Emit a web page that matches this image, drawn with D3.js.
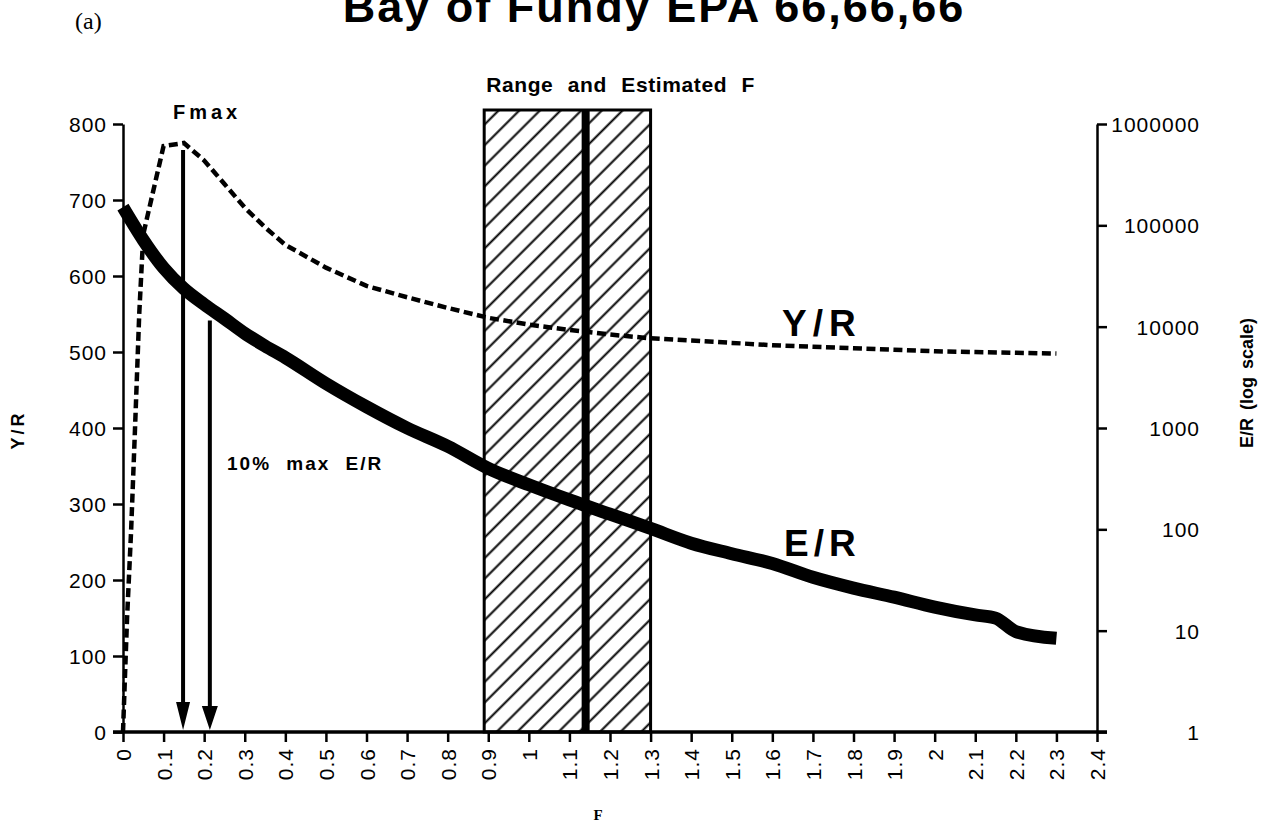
<!DOCTYPE html>
<html>
<head>
<meta charset="utf-8">
<script src="https://cdn.jsdelivr.net/npm/d3@7"></script>
<style>
  body { margin: 0; background: #fff; }
  text { font-family: "Liberation Sans", Arial, Helvetica, sans-serif; fill: #000; }
</style>
</head>
<body>
<svg id="chart" width="1265" height="828"></svg>
<script>
// Fishing mortality ticks and axis ticks
const fTicks = d3.range(0, 25).map(i => +(i / 10).toFixed(1));
const yrTicks = [0, 100, 200, 300, 400, 500, 600, 700, 800];
const erTicks = [1, 10, 100, 1000, 10000, 100000, 1000000];

// Yield per recruit (left axis)
const yrF = [0, 0.01, 0.02, 0.03, 0.04, 0.05, 0.1, 0.15, 0.2, 0.25, 0.3, 0.35, 0.4, 0.5, 0.6, 0.7,
             0.8, 0.9, 1.0, 1.1, 1.2, 1.3, 1.4, 1.5, 1.6, 1.7, 1.8, 1.9, 2.0, 2.1, 2.2, 2.3];
const yrValues = [0, 150, 265, 405, 550, 655, 771, 775, 752, 721, 690, 664, 641, 611, 587, 572,
                  558, 545, 536, 529, 523, 518, 515, 512, 509, 507, 505, 503, 501, 500, 499, 498];

// Eggs per recruit (right axis, log scale)
const erF = [0, 0.05, 0.1, 0.15, 0.2, 0.25, 0.3, 0.35, 0.4, 0.5, 0.6, 0.7, 0.8, 0.9, 1.0, 1.1,
             1.2, 1.3, 1.4, 1.5, 1.6, 1.7, 1.8, 1.9, 2.0, 2.1, 2.15, 2.2, 2.3];
const erValues = [151000, 71600, 38000, 23700, 16600, 12000, 8600, 6450, 4950, 2750, 1620, 1000,
                  660, 400, 275, 195, 141, 102, 73, 57.5, 46, 33.6, 26.3, 21.4, 17.1, 14.3, 13.3, 9.8, 8.4];

// Reference points
const fmax = 0.148;
const f10 = 0.214;          // F at 10% of maximum E/R
const f10ER = 15100;
const rangeF = [0.89, 1.30];
const estF = 1.14;

const svg = d3.select("#chart");

const x = d3.scaleLinear().domain([0, 2.4]).range([123, 1097]);
const yL = d3.scaleLinear().domain([0, 800]).range([732, 124]);
const yR = d3.scaleLog().domain([1, 1000000]).range([732, 124]);

// Hatch pattern for the F range box
const defs = svg.append("defs");
const pat = defs.append("pattern")
  .attr("id", "hatch")
  .attr("patternUnits", "userSpaceOnUse")
  .attr("width", 14.6).attr("height", 14.6)
  .attr("patternTransform", "rotate(45)");
pat.append("rect").attr("width", 14.6).attr("height", 14.6).attr("fill", "#fff");
pat.append("line")
  .attr("x1", 7.3).attr("y1", 0).attr("x2", 7.3).attr("y2", 14.6)
  .attr("stroke", "#000").attr("stroke-width", 2);

// Range box and estimated F
const boxTop = yL(800) - 14;
svg.append("rect")
  .attr("x", x(rangeF[0])).attr("y", boxTop)
  .attr("width", x(rangeF[1]) - x(rangeF[0]))
  .attr("height", yL(0) - boxTop)
  .attr("fill", "url(#hatch)")
  .attr("stroke", "#000").attr("stroke-width", 3);
svg.append("line")
  .attr("x1", x(estF)).attr("x2", x(estF))
  .attr("y1", boxTop).attr("y2", yL(0))
  .attr("stroke", "#000").attr("stroke-width", 8);

// Axes
const axisStyle = g => {
  g.selectAll("text").style("font-size", "21px").style("letter-spacing", "1px");
  g.selectAll("line").attr("stroke", "#000").attr("stroke-width", 2.5);
  g.select(".domain").attr("stroke", "#000").attr("stroke-width", 2.5);
};

svg.append("g")
  .attr("transform", `translate(${x(0)},0)`)
  .call(d3.axisLeft(yL).tickValues(yrTicks).tickSize(10).tickSizeOuter(0).tickPadding(6))
  .call(axisStyle)
  .call(g => g.selectAll("text").attr("dy", "0.36em"));

svg.append("g")
  .attr("transform", `translate(${x(2.4)},0)`)
  .call(d3.axisRight(yR).tickValues(erTicks).tickFormat(d => String(d)).tickSize(10).tickSizeOuter(0))
  .call(axisStyle)
  .call(g => g.selectAll("text").attr("text-anchor", "end").attr("x", 103).attr("dy", "0.36em"));

svg.append("g")
  .attr("transform", `translate(0,${yL(0)})`)
  .call(d3.axisBottom(x).tickValues(fTicks).tickFormat(d => String(+d.toFixed(1))).tickSize(10).tickSizeOuter(0))
  .call(axisStyle)
  .call(g => g.select(".domain").remove())
  .call(g => g.selectAll("text")
    .attr("transform", "rotate(-90)")
    .attr("text-anchor", "end")
    .attr("x", -16).attr("y", 0).attr("dy", "0.36em"));

svg.append("line")
  .attr("x1", x(0) - 10).attr("x2", x(2.4) + 10)
  .attr("y1", yL(0)).attr("y2", yL(0))
  .attr("stroke", "#000").attr("stroke-width", 3.5);

// Y/R curve (dashed)
const yrLine = d3.line().x((d, i) => x(yrF[i])).y(d => yL(d));
svg.append("path")
  .datum(yrValues)
  .attr("d", yrLine)
  .attr("fill", "none")
  .attr("stroke", "#000")
  .attr("stroke-width", 4.5)
  .attr("stroke-dasharray", "9,4.5");

// E/R curve (thick)
const erLine = d3.line().x((d, i) => x(erF[i])).y(d => yR(d)).curve(d3.curveMonotoneX);
svg.append("path")
  .datum(erValues)
  .attr("d", erLine)
  .attr("fill", "none")
  .attr("stroke", "#000")
  .attr("stroke-width", 13)
  .attr("stroke-linejoin", "round");

// Arrows down to the F axis
function arrow(fx, topY, headW, headH) {
  const tip = yL(0) - 2;
  svg.append("line")
    .attr("x1", x(fx)).attr("x2", x(fx))
    .attr("y1", topY).attr("y2", tip - headH + 2)
    .attr("stroke", "#000").attr("stroke-width", 4);
  svg.append("path")
    .attr("d", `M${x(fx) - headW / 2},${tip - headH} L${x(fx) + headW / 2},${tip - headH} L${x(fx)},${tip} Z`)
    .attr("fill", "#000");
}
const yrAt = d3.scaleLinear().domain(yrF).range(yrValues);
arrow(fmax, yL(yrAt(fmax)) + 7, 14, 28);
arrow(f10, yR(f10ER) + 12, 16, 24);

// Labels
svg.append("text")
  .attr("x", 654).attr("y", 22)
  .attr("text-anchor", "middle")
  .style("font-size", "45px").style("font-weight", "bold").style("letter-spacing", "2px")
  .text("Bay of Fundy EPA 66,66,66");

svg.append("text")
  .attr("x", 75).attr("y", 29)
  .style("font-family", "'Liberation Serif', 'Times New Roman', serif")
  .style("font-size", "24px")
  .text("(a)");

svg.append("text")
  .attr("x", x(rangeF[0]) + 2).attr("y", 92)
  .style("font-size", "21px").style("font-weight", "bold")
  .style("word-spacing", "8px").style("letter-spacing", "0.6px")
  .text("Range and Estimated F");

svg.append("text")
  .attr("x", 173).attr("y", 119)
  .style("font-size", "20px").style("font-weight", "bold").style("letter-spacing", "4px")
  .text("Fmax");

svg.append("text")
  .attr("x", 227).attr("y", 470)
  .style("font-size", "19px").style("font-weight", "bold")
  .style("letter-spacing", "2px").style("word-spacing", "8px")
  .text("10% max E/R");

svg.append("text")
  .attr("x", 782).attr("y", 336)
  .style("font-size", "37px").style("font-weight", "bold").style("letter-spacing", "6px")
  .text("Y/R");

svg.append("text")
  .attr("x", 784).attr("y", 556)
  .style("font-size", "37px").style("font-weight", "bold").style("letter-spacing", "5px")
  .text("E/R");

svg.append("text")
  .attr("transform", "translate(24,430) rotate(-90)")
  .attr("text-anchor", "middle")
  .style("font-size", "18px").style("font-weight", "bold").style("letter-spacing", "3px")
  .text("Y/R");

svg.append("text")
  .attr("transform", "translate(1253,383) rotate(-90)")
  .attr("text-anchor", "middle")
  .style("font-size", "18px").style("font-weight", "bold").style("word-spacing", "3px")
  .text("E/R (log scale)");

svg.append("text")
  .attr("x", 598).attr("y", 820)
  .attr("text-anchor", "middle")
  .style("font-family", "'Liberation Serif', 'Times New Roman', serif")
  .style("font-size", "15px").style("font-weight", "bold")
  .text("F");
</script>
</body>
</html>
